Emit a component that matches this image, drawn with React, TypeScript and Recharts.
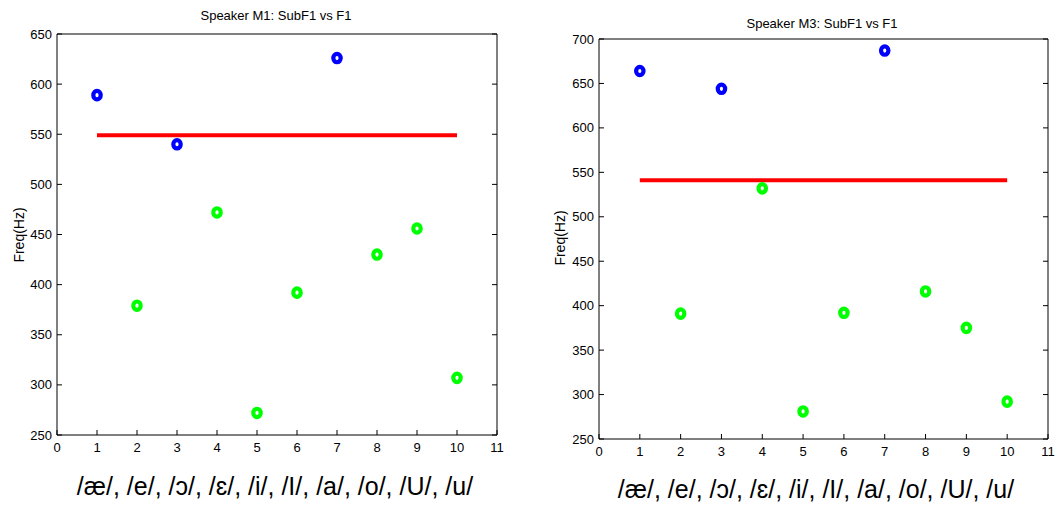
import React from "react";
import { ComposedChart, Scatter, ReferenceLine, XAxis, YAxis } from "recharts";

const vowels = ["/æ/", "/e/", "/ɔ/", "/ɛ/", "/i/", "/I/", "/a/", "/o/", "/U/", "/u/"];
// which vowels are drawn blue (the rest are green)
const groups = ["b", "g", "b", "g", "g", "g", "b", "g", "g", "g"];
const xTicks = [0, 1, 2, 3, 4, 5, 6, 7, 8, 9, 10, 11];

const m1SubF1 = [589, 379, 540, 472, 272, 392, 626, 430, 456, 307];
const m1F1 = 549;
const m1Ticks = [250, 300, 350, 400, 450, 500, 550, 600, 650];

const m3SubF1 = [664, 391, 644, 532, 281, 392, 687, 416, 375, 292];
const m3F1 = 541;
const m3Ticks = [250, 300, 350, 400, 450, 500, 550, 600, 650, 700];

const FONT = "'Liberation Sans', Arial, Helvetica, sans-serif";
const BLUE = "#0000ff";
const GREEN = "#00ff00";

const toPoints = (vals: number[], g: string) =>
  vals.map((y, i) => ({ x: i + 1, y, g: groups[i] })).filter((p) => p.g === g);

const Ring = (color: string) => (p: any) => (
  <ellipse cx={p.cx} cy={p.cy} rx={3.7} ry={4.2} fill="#fff" stroke={color} strokeWidth={4.2} />
);

const BottomTick = (p: any) => (
  <g>
    <line x1={p.x} x2={p.x} y1={p.y} y2={p.y - 5} stroke="#000" />
    <text x={p.x} y={p.y + 17} textAnchor="middle" fontSize={13} fontFamily={FONT} fill="#000">
      {p.payload.value}
    </text>
  </g>
);
const TopTick = (p: any) => <line x1={p.x} x2={p.x} y1={p.y} y2={p.y + 5} stroke="#000" />;
const LeftTick = (p: any) => (
  <g>
    <line x1={p.x} x2={p.x + 5} y1={p.y} y2={p.y} stroke="#000" />
    <text x={p.x - 5} y={p.y + 4.5} textAnchor="end" fontSize={13} fontFamily={FONT} fill="#000">
      {p.payload.value}
    </text>
  </g>
);
const RightTick = (p: any) => <line x1={p.x} x2={p.x - 5} y1={p.y} y2={p.y} stroke="#000" />;

function Panel({
  left, width, margin, title, titleY, values, mean, yTicks, labelX, labelY, xLabelX, xLabelY,
}: {
  left: number; width: number; margin: any; title: string; titleY: number;
  values: number[]; mean: number; yTicks: number[];
  labelX: number; labelY: number; xLabelX: number; xLabelY: number;
}) {
  const dom = [yTicks[0], yTicks[yTicks.length - 1]];
  const axisLine = { stroke: "#000", strokeWidth: 1 };
  return (
    <div style={{ position: "absolute", left, top: 0, width, height: 507 }}>
      <ComposedChart width={width} height={507} margin={margin}>
        <XAxis xAxisId="b" type="number" dataKey="x" domain={[0, 11]} ticks={xTicks} interval={0}
          orientation="bottom" height={30} tickSize={0} tickMargin={0} tickLine={false}
          tick={BottomTick} axisLine={axisLine} allowDataOverflow />
        <XAxis xAxisId="t" type="number" domain={[0, 11]} ticks={xTicks} interval={0}
          orientation="top" height={4} tickSize={0} tickMargin={0} tickLine={false}
          tick={TopTick} axisLine={axisLine} allowDataOverflow />
        <YAxis yAxisId="l" type="number" dataKey="y" domain={dom} ticks={yTicks} interval={0}
          width={40} tickSize={0} tickMargin={0} tickLine={false}
          tick={LeftTick} axisLine={axisLine} allowDataOverflow />
        <YAxis yAxisId="r" orientation="right" type="number" domain={dom} ticks={yTicks} interval={0}
          width={4} tickSize={0} tickMargin={0} tickLine={false}
          tick={RightTick} axisLine={axisLine} allowDataOverflow />
        <ReferenceLine xAxisId="b" yAxisId="l" segment={[{ x: 1, y: mean }, { x: 10, y: mean }]}
          stroke="#ff0000" strokeWidth={4} ifOverflow="visible" />
        <Scatter xAxisId="b" yAxisId="l" data={toPoints(values, "b")} shape={Ring(BLUE)}
          isAnimationActive={false} />
        <Scatter xAxisId="b" yAxisId="l" data={toPoints(values, "g")} shape={Ring(GREEN)}
          isAnimationActive={false} />
      </ComposedChart>
      <div style={{ position: "absolute", left: 0, width: "100%", top: titleY, textAlign: "center",
        font: `13px ${FONT}`, transform: "translateY(-50%)", marginLeft: margin.left - margin.right + 18 }}>
      </div>
      <div style={{ position: "absolute", left: labelX, top: titleY, transform: "translate(-50%,-50%)",
        font: `13px ${FONT}`, whiteSpace: "nowrap" }}>{title}</div>
      <div style={{ position: "absolute", left: labelY, top: xLabelY - 251, transform: "translate(-50%,-50%) rotate(-90deg)",
        font: `14px ${FONT}`, whiteSpace: "nowrap" }}>Freq(Hz)</div>
      <div style={{ position: "absolute", left: xLabelX, top: xLabelY, transform: "translate(-50%,-50%)",
        font: `25px ${FONT}`, whiteSpace: "nowrap" }}>{vowels.join(", ")}</div>
    </div>
  );
}

export default function App() {
  return (
    <div style={{ position: "absolute", left: 0, top: 0, width: 1058, height: 507, background: "#fff" }}>
      <Panel left={0} width={520} margin={{ top: 30, right: 19, bottom: 42, left: 17 }}
        title="Speaker M1: SubF1 vs F1" titleY={15} values={m1SubF1} mean={m1F1} yTicks={m1Ticks}
        labelX={276} labelY={19} xLabelX={275} xLabelY={486} />
      <Panel left={540} width={518} margin={{ top: 35, right: 6, bottom: 38, left: 19 }}
        title="Speaker M3: SubF1 vs F1" titleY={23} values={m3SubF1} mean={m3F1} yTicks={m3Ticks}
        labelX={282} labelY={20} xLabelX={276} xLabelY={489} />
    </div>
  );
}
